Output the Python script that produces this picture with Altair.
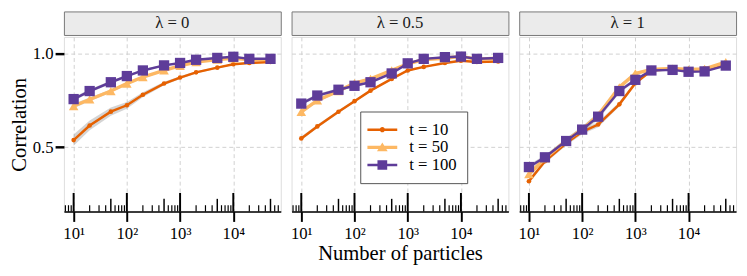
import altair as alt
import pandas as pd

# ---------------- data ----------------
N = [10, 20, 50, 100, 200, 500, 1000, 2000, 5000, 10000, 20000, 50000]
series_names = ["t = 10", "t = 50", "t = 100"]
panel_titles = ["λ = 0", "λ = 0.5", "λ = 1"]

l0_t10 = [0.538, 0.616, 0.690, 0.724, 0.780, 0.840, 0.872, 0.900, 0.925, 0.943, 0.950, 0.955]
l0_t50 = [0.720, 0.755, 0.800, 0.840, 0.875, 0.910, 0.935, 0.955, 0.968, 0.975, 0.968, 0.968]
l0_t100 = [0.757, 0.800, 0.847, 0.880, 0.910, 0.937, 0.950, 0.967, 0.977, 0.983, 0.972, 0.972]

l05_t10 = [0.547, 0.611, 0.689, 0.746, 0.802, 0.865, 0.910, 0.929, 0.950, 0.962, 0.955, 0.958]
l05_t50 = [0.689, 0.750, 0.800, 0.842, 0.865, 0.910, 0.945, 0.968, 0.975, 0.985, 0.970, 0.975]
l05_t100 = [0.733, 0.776, 0.807, 0.828, 0.847, 0.894, 0.948, 0.972, 0.981, 0.984, 0.972, 0.977]

l1_t10 = [0.318, 0.425, 0.521, 0.582, 0.621, 0.729, 0.842, 0.910, 0.918, 0.910, 0.920, 0.935]
l1_t50 = [0.356, 0.440, 0.535, 0.595, 0.670, 0.820, 0.894, 0.915, 0.920, 0.915, 0.918, 0.955]
l1_t100 = [0.394, 0.446, 0.533, 0.594, 0.663, 0.800, 0.860, 0.910, 0.913, 0.903, 0.905, 0.936]

# half-width of the grey uncertainty ribbons
l0_t10_err = [0.030, 0.026, 0.022, 0.018, 0.013, 0.009, 0.007, 0.006, 0.005, 0.004, 0.004, 0.004]
l0_t50_err = [0.012, 0.010, 0.008, 0.007, 0.006, 0.005, 0.004, 0.004, 0.003, 0.003, 0.003, 0.003]
l0_t100_err = [0.010, 0.009, 0.008, 0.007, 0.006, 0.005, 0.004, 0.004, 0.003, 0.003, 0.003, 0.003]
l05_t10_err = [0.010, 0.009, 0.008, 0.007, 0.006, 0.005, 0.004, 0.004, 0.003, 0.003, 0.003, 0.003]
l05_t50_err = [0.010, 0.009, 0.008, 0.007, 0.006, 0.005, 0.004, 0.004, 0.003, 0.003, 0.003, 0.003]
l05_t100_err = [0.010, 0.009, 0.008, 0.007, 0.006, 0.005, 0.004, 0.004, 0.003, 0.003, 0.003, 0.003]
l1_t10_err = [0.012, 0.012, 0.012, 0.013, 0.014, 0.012, 0.008, 0.005, 0.004, 0.004, 0.004, 0.004]
l1_t50_err = [0.012, 0.012, 0.013, 0.015, 0.016, 0.012, 0.008, 0.005, 0.004, 0.004, 0.004, 0.004]
l1_t100_err = [0.012, 0.012, 0.013, 0.015, 0.016, 0.012, 0.008, 0.005, 0.004, 0.004, 0.004, 0.004]

x_tick_values = [10, 100, 1000, 10000]
x_tick_labels = ["10¹", "10²", "10³", "10⁴"]
y_tick_values = [0.5, 1.0]

major_log_ticks = [10, 100, 1000, 10000]
mid_log_ticks = [50, 500, 5000, 50000]
minor_log_ticks = [7, 8, 9, 20, 30, 40, 60, 70, 80, 90, 200, 300, 400, 600, 700, 800, 900,
                   2000, 3000, 4000, 6000, 7000, 8000, 9000, 20000, 30000, 40000, 60000, 70000]

# ---------------- table ----------------
panel_data = {
    "λ = 0": [(l0_t10, l0_t10_err), (l0_t50, l0_t50_err), (l0_t100, l0_t100_err)],
    "λ = 0.5": [(l05_t10, l05_t10_err), (l05_t50, l05_t50_err), (l05_t100, l05_t100_err)],
    "λ = 1": [(l1_t10, l1_t10_err), (l1_t50, l1_t50_err), (l1_t100, l1_t100_err)],
}
rows = []
for p in panel_titles:
    for s, (vals, errs) in zip(series_names, panel_data[p]):
        for n, v, e in zip(N, vals, errs):
            rows.append({"panel": p, "series": s, "N": n, "corr": v, "lo": v - e, "hi": v + e})
df = pd.DataFrame(rows)

ticks_major = pd.DataFrame({"N": major_log_ticks})
ticks_mid = pd.DataFrame({"N": mid_log_ticks})
ticks_minor = pd.DataFrame({"N": minor_log_ticks})

# ---------------- style ----------------
FONT = "Liberation Serif"
COLORS = ["#e66101", "#fdb863", "#5e3c99"]
SHAPES = ["circle", "triangle-up", "square"]
SIZES = [22, 95, 110]
WIDTHS = [2.5, 3.5, 2.5]
LEGEND_PATHS = [
    "M-1.9,-0.16H1.9V0.16H-1.9Z M-0.33,0A0.33,0.33 0 1,1 0.33,0A0.33,0.33 0 1,1 -0.33,0Z",
    "M-1.9,-0.2H1.9V0.2H-1.9Z M0,-0.62L0.68,0.5L-0.68,0.5Z",
    "M-1.9,-0.16H1.9V0.16H-1.9Z M-0.62,-0.62H0.62V0.62H-0.62Z",
]
W, H, STRIP_H = 221, 178, 24
XDOM = [6.57, 78000]
YDOM = [0.156, 1.089]

label_expr = " : ".join(
    f"datum.value == {v} ? '{l}'" for v, l in zip(x_tick_values, x_tick_labels)
) + " : ''"

xscale = alt.Scale(type="log", domain=XDOM, nice=False)
yscale = alt.Scale(domain=YDOM, nice=False, zero=False)


def x_axis(title):
    kw = dict(values=x_tick_values, labelExpr=label_expr, grid=True, tickSize=10,
              tickWidth=2, tickColor="black", domainColor="black", domainWidth=1.5,
              labelFontSize=17, labelPadding=4, labelFont=FONT, labelColor="black",
              gridColor="#d0d0d0", gridDash=[4, 3], gridWidth=1)
    if title:
        kw.update(title=title, titleFontSize=21, titleFont=FONT, titleFontWeight="normal",
                  titlePadding=2, titleColor="black")
    else:
        kw.update(title=None)
    return alt.Axis(**kw)


def y_axis(show):
    if show:
        return alt.Axis(values=y_tick_values, format=".1f", grid=True, domain=False,
                        tickSize=9, tickWidth=2.5, tickColor="black", labelFontSize=17,
                        labelFont=FONT, labelPadding=2, labelColor="black",
                        title="Correlation", titleFontSize=21, titleFont=FONT,
                        titleFontWeight="normal", titlePadding=3, titleColor="black",
                        gridColor="#d0d0d0", gridDash=[4, 3], gridWidth=1)
    return alt.Axis(values=y_tick_values, grid=True, domain=False, ticks=False, labels=False,
                    title=None, gridColor="#d0d0d0", gridDash=[4, 3], gridWidth=1)


def make_panel(i):
    p = panel_titles[i]
    d = df[df.panel == p]
    xenc = alt.X("N:Q", scale=xscale, axis=x_axis("Number of particles" if i == 1 else None))
    yax = y_axis(i == 0)

    layers = []
    # inside log ticks (annotation-style), rising from the bottom axis
    for tdf, ln, wd in [(ticks_minor, 6.5, 1.2), (ticks_mid, 13, 1.5), (ticks_major, 19, 2)]:
        layers.append(
            alt.Chart(tdf).mark_rule(color="black", strokeWidth=wd).encode(
                x=xenc,
                y=alt.value(H),
                y2=alt.value(H - ln),
            )
        )
    # ribbons
    layers.append(
        alt.Chart(d).mark_area(color="#a0a0a0", opacity=0.45).encode(
            x=xenc,
            y=alt.Y("lo:Q", scale=yscale, axis=yax),
            y2="hi:Q",
            detail="series:N",
        )
    )
    for s, c, sh, sz, w in zip(series_names, COLORS, SHAPES, SIZES, WIDTHS):
        ds = d[d.series == s]
        layers.append(
            alt.Chart(ds).mark_line(color=c, strokeWidth=w).encode(
                x=xenc, y=alt.Y("corr:Q", scale=yscale, axis=yax)
            )
        )
        layers.append(
            alt.Chart(ds).mark_point(filled=True, color=c, shape=sh, size=sz, opacity=1).encode(
                x=xenc, y=alt.Y("corr:Q", scale=yscale, axis=yax)
            )
        )
    if i == 1:
        leg = alt.Legend(title=None, orient="none", legendX=302, legendY=102,
                         labelFont=FONT, labelFontSize=17, labelColor="black",
                         labelExpr="datum.label + '\u00a0\u00a0\u00a0\u00a0\u00a0\u00a0\u00a0'",
                         symbolSize=256, symbolStrokeWidth=0, symbolOpacity=1,
                         symbolOffset=4, labelOffset=19, padding=10, rowPadding=0,
                         strokeColor="#555555", fillColor="white", cornerRadius=0)
        layers.append(
            alt.Chart(d).transform_filter("false").mark_point(filled=True, size=256, opacity=1).encode(
                x=xenc,
                y=alt.Y("corr:Q", scale=yscale, axis=yax),
                color=alt.Color("series:N", scale=alt.Scale(domain=series_names, range=COLORS), legend=leg),
                shape=alt.Shape("series:N", scale=alt.Scale(domain=series_names, range=LEGEND_PATHS), legend=leg),
            )
        )
    body = alt.layer(*layers).properties(width=W, height=H)

    strip = (
        alt.Chart(pd.DataFrame({"label": [p]}))
        .mark_text(font=FONT, fontSize=17, color="#1a1a1a", baseline="middle")
        .encode(text="label:N")
        .properties(width=W, height=STRIP_H,
                    view=alt.ViewBackground(fill="#ebebeb", stroke="#777777", strokeWidth=1))
    )
    return alt.vconcat(strip, body, spacing=0)


chart = (
    alt.hconcat(*[make_panel(i) for i in range(3)], spacing=8)
    .properties(padding={"left": 0, "top": 0, "right": 2, "bottom": 2})
    .configure_view(stroke="#333333", strokeWidth=1.2)
    .configure(font=FONT)
)

chart.save("out.html", embed_options={"renderer": "svg", "actions": False})
